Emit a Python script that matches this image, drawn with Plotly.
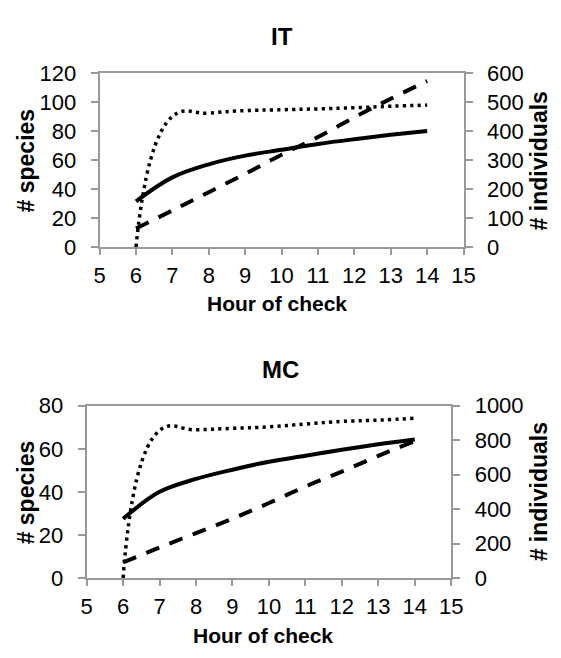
import plotly.graph_objects as go

W, H = 561, 658

hours = [6, 7, 8, 9, 10, 11, 12, 13, 14]
x_ticks = [5, 6, 7, 8, 9, 10, 11, 12, 13, 14, 15]

# IT panel
it_species = [31.5, 48, 57, 63, 67, 71, 74.3, 77.3, 80]
it_individuals = [64, 126, 189, 252, 318, 379, 447, 511, 572]
it_dotted = [0, 90, 92.3, 94, 94.6, 95.2, 96, 97, 97.8]

# MC panel
mc_species = [27.5, 40, 46, 50.3, 54, 56.8, 59.6, 62.1, 64.3]
mc_individuals = [90, 177, 260, 344, 435, 531, 618, 709, 795]
mc_dotted = [0, 68.5, 68.8, 69.5, 70.2, 71.5, 72.7, 73.3, 74.2]

FONT = "Liberation Sans, Arial, sans-serif"
AX = "#999999"

def px(x):
    return x / W

def py(y):
    return 1 - y / H

fig = go.Figure()

def add_panel(xa, ya_left, ya_right, sp, ind, dot):
    fig.add_trace(go.Scatter(x=hours, y=sp, xaxis=xa, yaxis=ya_left, mode="lines",
                             line=dict(color="black", width=4, shape="spline", smoothing=1),
                             showlegend=False, hoverinfo="skip"))
    fig.add_trace(go.Scatter(x=hours, y=ind, xaxis=xa, yaxis=ya_right, mode="lines",
                             line=dict(color="black", width=4, shape="spline", smoothing=1,
                                       dash="14px,11px"),
                             showlegend=False, hoverinfo="skip"))
    fig.add_trace(go.Scatter(x=hours, y=dot, xaxis=xa, yaxis=ya_left, mode="lines",
                             line=dict(color="black", width=3.5, shape="spline", smoothing=1.3,
                                       dash="3.2px,4.2px"),
                             showlegend=False, hoverinfo="skip"))

add_panel("x", "y", "y2", it_species, it_individuals, it_dotted)
add_panel("x2", "y3", "y4", mc_species, mc_individuals, mc_dotted)

tickfont = dict(family=FONT, size=22, color="black")

def xax(domain, anchor):
    return dict(domain=domain, anchor=anchor, range=[5, 15], tickvals=x_ticks,
                ticktext=[str(v) for v in x_ticks],
                showline=True, linecolor=AX, linewidth=2, mirror=True,
                ticks="outside", ticklen=6, tickwidth=2, tickcolor=AX,
                showgrid=False, zeroline=False, tickfont=tickfont,
                ticklabelstandoff=2, fixedrange=True)

def yax(domain, anchor, rng, dtick, side="left", overlaying=None):
    d = dict(domain=domain, anchor=anchor, range=rng, dtick=dtick, tick0=0,
             showline=True, linecolor=AX, linewidth=2, side=side,
             ticks="outside", ticklen=7, tickwidth=2, tickcolor=AX,
             showgrid=False, zeroline=False, tickfont=tickfont,
             ticklabelstandoff=10, fixedrange=True)
    if overlaying:
        d["overlaying"] = overlaying
    return d

top_dom = [py(244.3), py(63.3)]
bot_dom = [py(588.3), py(409.3)]

fig.update_layout(
    width=W, height=H, autosize=False,
    margin=dict(l=0, r=0, t=0, b=0),
    paper_bgcolor="white", plot_bgcolor="white",
    font=dict(family=FONT, color="black"),
    xaxis=xax([px(96.7), px(472.7)], "y"),
    yaxis=yax(top_dom, "x", [0, 120], 20),
    yaxis2=yax(top_dom, "x", [0, 600], 100, side="right", overlaying="y"),
    xaxis2=xax([px(83.3), px(460)], "y3"),
    yaxis3=yax(bot_dom, "x2", [0, 80], 20),
    yaxis4=yax(bot_dom, "x2", [0, 1000], 200, side="right", overlaying="y3"),
)

def ann(text, x, y, size, angle=0):
    fig.add_annotation(text=f"<b>{text}</b>", x=px(x), y=py(y), xref="paper", yref="paper",
                       xanchor="center", yanchor="middle", showarrow=False, textangle=angle,
                       font=dict(family=FONT, size=size, color="black"))

ann("IT", 285, 25, 24)
ann("MC", 284, 372, 24)
ann("Hour of check", 280, 303, 21)
ann("Hour of check", 266, 648, 21)
ann("# species", 21, 154, 23, -90)
ann("# species", 21, 499, 23, -90)
ann("# individuals", 551, 155, 23, -90)
ann("# individuals", 551, 499, 23, -90)

fig.write_html("out.html", config={"displayModeBar": False},
               post_script="document.body.style.margin='0';document.body.style.overflow='hidden';")
